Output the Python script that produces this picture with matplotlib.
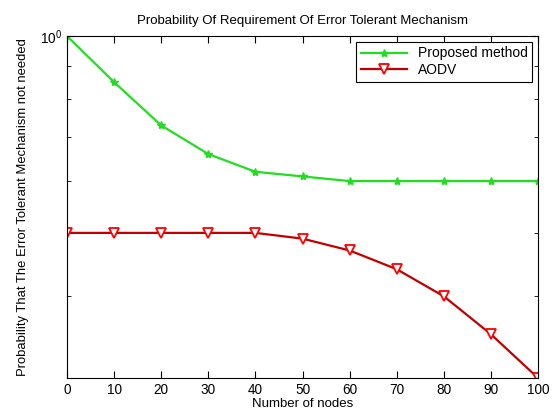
import numpy as np
from matplotlib import pyplot as plt
from matplotlib import ticker
import matplotlib
matplotlib.rcParams['font.family'] = ['Liberation Sans', 'DejaVu Sans']
matplotlib.rcParams['mathtext.fontset'] = 'custom'
matplotlib.rcParams['mathtext.rm'] = 'Liberation Sans'

# data
nodes = [0, 10, 20, 30, 40, 50, 60, 70, 80, 90, 100]
proposed = [1.0, 0.85, 0.73, 0.66, 0.62, 0.61, 0.60, 0.60, 0.60, 0.60, 0.60]
aodv = [0.5, 0.5, 0.5, 0.5, 0.5, 0.49, 0.47, 0.44, 0.40, 0.35, 0.30]

fig = plt.figure(figsize=(5.52, 4.12), dpi=100)
# axes box: x 67..538, y 36..378 px
ax = fig.add_axes([67/552, 1-378/412, 471/552, 342/412])

ax.plot(nodes, proposed, color='#22dd22', lw=1.6, marker='*', ms=6,
        mec='#22dd22', mfc='#22dd22', label='Proposed method')
ax.plot(nodes, aodv, color='#c00000', lw=1.6, marker='v', ms=7,
        mec='#ff0000', mfc='white', mew=1.3, label='AODV')

ax.set_yscale('log')
ax.set_xlim(0, 100)
ax.set_ylim(0.3, 1.0)
ax.set_xticks(nodes)
ax.yaxis.set_major_locator(ticker.FixedLocator([1.0]))
ax.yaxis.set_major_formatter(ticker.FixedFormatter(['$10^0$']))
ax.yaxis.set_minor_locator(ticker.FixedLocator([0.4, 0.5, 0.6, 0.7, 0.8, 0.9]))
ax.yaxis.set_minor_formatter(ticker.NullFormatter())
ax.tick_params(which='both', direction='in', top=True, right=True, labelsize=9.8)
ax.tick_params(which='major', length=5)
ax.tick_params(which='minor', length=3)

ax.set_title('Probability Of Requirement Of Error Tolerant Mechanism', fontsize=9.5, pad=9)
ax.set_xlabel('Number of nodes', fontsize=9.5, labelpad=1)
ax.set_ylabel('Probability That The Error Tolerant Mechanism not needed', fontsize=9.4, labelpad=8)

leg = ax.legend(loc='upper right', fontsize=10, fancybox=False, framealpha=1,
                edgecolor='black', borderaxespad=0.4, handlelength=3.3,
                labelspacing=0.2, borderpad=0.35)
leg.get_frame().set_linewidth(0.8)

fig.savefig('out.png', dpi=100)
